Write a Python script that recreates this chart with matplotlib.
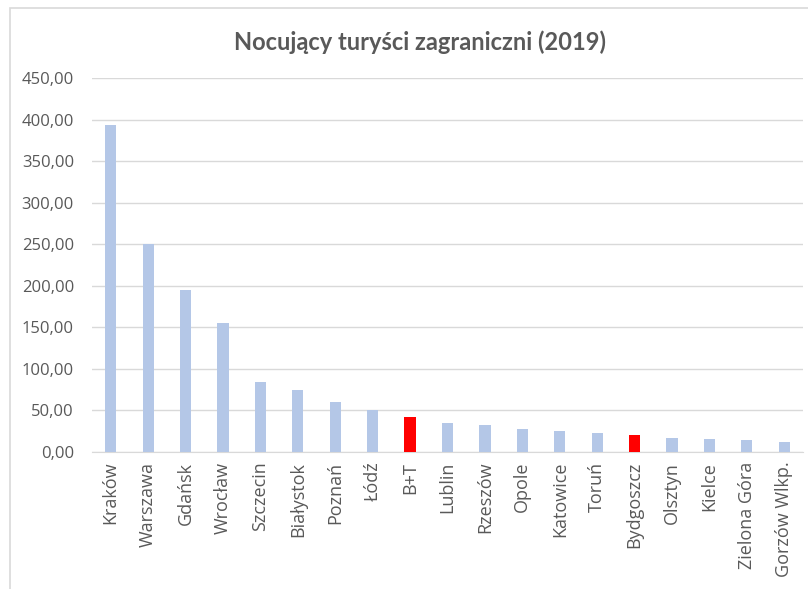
import numpy as np
import matplotlib.pyplot as plt
from matplotlib.patches import Rectangle
from matplotlib.ticker import FuncFormatter

# data (thousands of tourists)
cities = ['Kraków', 'Warszawa', 'Gdańsk', 'Wrocław', 'Szczecin', 'Białystok',
          'Poznań', 'Łódź', 'B+T', 'Lublin', 'Rzeszów', 'Opole', 'Katowice',
          'Toruń', 'Bydgoszcz', 'Olsztyn', 'Kielce', 'Zielona Góra', 'Gorzów Wlkp.']
values = [392.9, 250.5, 195.0, 155.0, 84.5, 74.5, 59.7, 50.5, 42.7, 35.2,
          31.9, 27.4, 25.4, 23.4, 20.2, 16.9, 15.7, 14.5, 11.7]
highlight = ['B+T', 'Bydgoszcz']

blue = '#B4C7E7'
red = '#FF0000'
grey_txt = '#595959'

plt.rcParams['font.family'] = ['Open Sans', 'DejaVu Sans']

fig = plt.figure(figsize=(8.08, 5.89), dpi=100)
ax = fig.add_axes([92/808, 1-452/589, 711/808, 374/589])

# chart border (left and top edges visible)
fig.patches.append(Rectangle((10/808, -0.1), 1.2, 1-8/589+0.1, transform=fig.transFigure,
                             fill=False, edgecolor='#D9D9D9', linewidth=1.2))

x = np.arange(len(cities))
colors = [red if c in highlight else blue for c in cities]
ax.bar(x, values, width=0.3, color=colors, zorder=3)

ax.set_xlim(-0.5, len(cities) - 0.5)
ax.set_ylim(0, 450)
ax.set_yticks(np.arange(0, 451, 50))
ax.yaxis.set_major_formatter(FuncFormatter(lambda v, p: f'{v:.2f}'.replace('.', ',')))
ax.set_xticks(x)
ax.set_xticklabels(cities, rotation=90)

ax.grid(axis='y', color='#D9D9D9', linewidth=1, zorder=0)
for s in ['top', 'right', 'left']:
    ax.spines[s].set_visible(False)
ax.spines['bottom'].set_color('#D9D9D9')
ax.tick_params(axis='both', length=0, colors=grey_txt)
ax.tick_params(axis='y', pad=13, labelsize=12)
ax.tick_params(axis='x', pad=7, labelsize=13)

fig.text(420/808, 1-42/589, 'Nocujący turyści zagraniczni (2019)', ha='center', va='center',
         fontsize=17, fontweight='bold', color=grey_txt, family=['Lato', 'DejaVu Sans'])

fig.savefig('out.png', dpi=100)
